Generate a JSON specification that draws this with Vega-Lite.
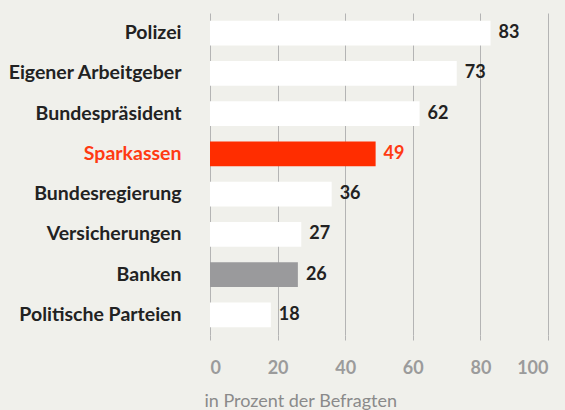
{
  "$schema": "https://vega.github.io/schema/vega-lite/v6.json",
  "autosize": "none",
  "width": 338,
  "height": 322,
  "padding": {"left": 210, "top": 13, "right": 17, "bottom": 75},
  "background": "#f0f0eb",
  "config": {"view": {"stroke": null}, "font": "Lato"},
  "data": {"values": [
    {"name": "Polizei", "value": 83},
    {"name": "Eigener Arbeitgeber", "value": 73},
    {"name": "Bundespräsident", "value": 62},
    {"name": "Sparkassen", "value": 49},
    {"name": "Bundesregierung", "value": 36},
    {"name": "Versicherungen", "value": 27},
    {"name": "Banken", "value": 26},
    {"name": "Politische Parteien", "value": 18}
  ]},
  "encoding": {
    "y": {
      "field": "name", "type": "nominal", "sort": null,
      "scale": {"paddingInner": 0.38, "paddingOuter": 0.19},
      "axis": {
        "title": null, "domain": false, "ticks": false, "grid": false,
        "labelPadding": 29, "labelFontSize": 19.5, "labelFontWeight": "bold",
        "labelColor": {"expr": "datum.value == 'Sparkassen' ? '#ff3a12' : '#222222'"}
      }
    },
    "x": {
      "field": "value", "type": "quantitative",
      "scale": {"domain": [0, 100], "nice": false},
      "axis": {
        "values": [0, 20, 40, 60, 80, 100],
        "grid": true, "gridColor": "#b4b4b4", "gridWidth": 1,
        "domain": false, "tickSize": 5, "tickColor": "#b4b4b4",
        "labelFontSize": 18, "labelFontWeight": "bold", "labelColor": "#9b9b9b",
        "labelPadding": 19,
        "title": "in Prozent der Befragten",
        "titleFontSize": 18, "titleFontWeight": "normal", "titleColor": "#8a8a8a",
        "titleAnchor": "start", "titleAlign": "left", "titleX": -6, "titlePadding": 15
      }
    }
  },
  "layer": [
    {
      "mark": {"type": "bar"},
      "encoding": {
        "color": {
          "condition": [
            {"test": "datum.name == 'Sparkassen'", "value": "#ff2d00"},
            {"test": "datum.name == 'Banken'", "value": "#9a9a9c"}
          ],
          "value": "#ffffff"
        }
      }
    },
    {
      "mark": {"type": "text", "align": "left", "dx": 8, "fontSize": 18, "fontWeight": "bold"},
      "encoding": {
        "text": {"field": "value", "type": "quantitative"},
        "color": {
          "condition": {"test": "datum.name == 'Sparkassen'", "value": "#ff3a12"},
          "value": "#222222"
        }
      }
    }
  ]
}
